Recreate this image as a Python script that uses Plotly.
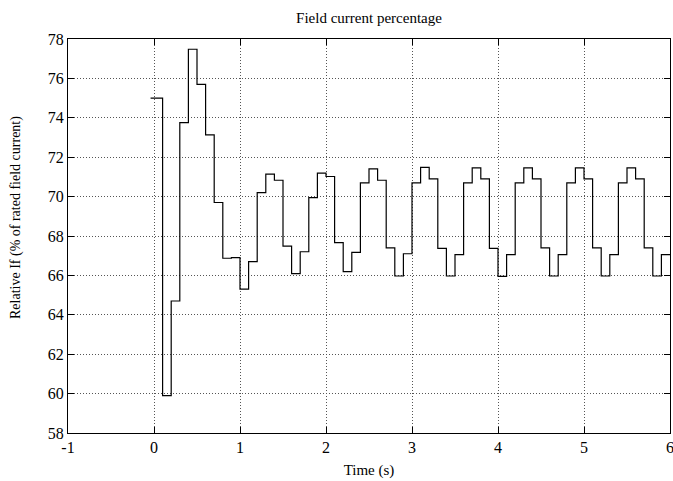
import plotly.graph_objects as go

# Step start times (s) and field current values (% of rated)
t_start = [-0.04, 0.1, 0.2, 0.3, 0.4, 0.5, 0.6, 0.7, 0.8, 0.9,
           1.0, 1.1, 1.2, 1.3, 1.4, 1.5, 1.6, 1.7, 1.8, 1.9,
           2.0, 2.1, 2.2, 2.3, 2.4, 2.5, 2.6, 2.7, 2.8, 2.9,
           3.0, 3.1, 3.2, 3.3, 3.4, 3.5, 3.6, 3.7, 3.8, 3.9,
           4.0, 4.1, 4.2, 4.3, 4.4, 4.5, 4.6, 4.7, 4.8, 4.9,
           5.0, 5.1, 5.2, 5.3, 5.4, 5.5, 5.6, 5.7, 5.8, 5.9, 6.0]
field_pct = [75.0, 59.9, 64.7, 73.75, 77.48, 75.7, 73.13, 69.7, 66.87, 66.9,
             65.3, 66.7, 70.2, 71.14, 70.83, 67.49, 66.09, 67.2, 69.95, 71.19,
             71.02, 67.66, 66.19, 67.17, 70.7, 71.41, 70.83, 67.4, 65.97, 67.1,
             70.7, 71.48, 70.9, 67.37, 65.97, 67.05, 70.7, 71.46, 70.9, 67.37,
             65.95, 67.05, 70.7, 71.46, 70.9, 67.4, 65.97, 67.05, 70.7, 71.46,
             70.9, 67.4, 65.97, 67.05, 70.7, 71.46, 70.9, 67.4, 65.97, 67.05, 67.05]

x_ticks = [-1, 0, 1, 2, 3, 4, 5, 6]
y_ticks = [58, 60, 62, 64, 66, 68, 70, 72, 74, 76, 78]

fig = go.Figure()
fig.add_trace(go.Scatter(
    x=t_start, y=field_pct, mode="lines",
    line=dict(shape="hv", color="black", width=1.2),
    showlegend=False,
))

font_family = "Liberation Serif, Times New Roman, serif"
axis_common = dict(
    showline=True, linecolor="black", linewidth=1.3, mirror="ticks",
    ticks="inside", ticklen=6, tickcolor="black", tickwidth=1,
    showgrid=True, gridcolor="#555555", gridwidth=1, griddash="1px,2px",
    zeroline=False, ticklabeloverflow="allow", automargin=False,
    tickfont=dict(family=font_family, size=16, color="black"),
)

fig.update_layout(
    width=673, height=481,
    margin=dict(l=68, r=3, t=39, b=48),
    paper_bgcolor="white", plot_bgcolor="white",
    font=dict(family=font_family, color="black"),
    title=dict(text="Field current percentage", x=0.5, xref="paper",
               xanchor="center", y=1 - 18 / 481, yref="container", yanchor="middle",
               font=dict(family=font_family, size=15, color="black")),
    xaxis=dict(range=[-1, 6], tickvals=x_ticks,
               ticktext=[str(v) for v in x_ticks],
               title=dict(text="Time (s)", standoff=9,
                          font=dict(family=font_family, size=15, color="black")),
               **axis_common),
    yaxis=dict(range=[58, 78], tickvals=y_ticks,
               ticktext=[str(v) for v in y_ticks],
               **axis_common),
)
fig.add_annotation(
    text="Relative If (% of rated field current)",
    xref="paper", yref="paper", x=-(68 - 16) / 602, y=(433 - 218) / 394,
    xanchor="center", yanchor="middle", textangle=-90, showarrow=False,
    font=dict(family=font_family, size=14, color="black"),
)

fig.write_html("out.html")
